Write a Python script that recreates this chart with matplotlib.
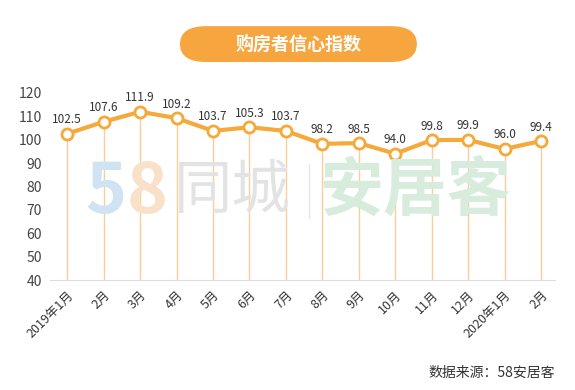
import matplotlib.pyplot as plt
from matplotlib.patches import FancyBboxPatch

plt.rcParams['font.family'] = ['Noto Sans CJK SC', 'DejaVu Sans']

months = ['2019年1月', '2月', '3月', '4月', '5月', '6月', '7月', '8月', '9月',
          '10月', '11月', '12月', '2020年1月', '2月']
values = [102.5, 107.6, 111.9, 109.2, 103.7, 105.3, 103.7, 98.2, 98.5,
          94.0, 99.8, 99.9, 96.0, 99.4]
yticks = [40, 50, 60, 70, 80, 90, 100, 110, 120]

orange = '#f5a93a'
x = list(range(len(values)))

fig = plt.figure(figsize=(5.75, 3.9), dpi=100)
ax = fig.add_axes([0.087, 0.282, 0.878, 0.48])

# watermark
fig.text(0.148, 0.505, '5', fontsize=50, color='#cfe3f3', fontweight='bold', ha='left', va='center')
fig.text(0.220, 0.505, '8', fontsize=50, color='#f9e0c8', fontweight='bold', ha='left', va='center')
fig.text(0.302, 0.51, '同城', fontsize=42, color='#e3e3e3', ha='left', va='center')
fig.text(0.555, 0.51, '安居客', fontsize=46, color='#d8ecdd', fontweight='bold', ha='left', va='center')
fig.add_artist(plt.Line2D([0.537, 0.537], [0.44, 0.58], color='#e6e6e6', lw=1))

for xi, v in zip(x, values):
    ax.plot([xi, xi], [40, v], color='#f8cf9a', lw=1, zorder=1)

ax.plot(x, values, color=orange, lw=3, zorder=3, marker='o', markersize=8,
        markerfacecolor='white', markeredgecolor=orange, markeredgewidth=2)
for xi, v in zip(x, values):
    ax.text(xi, v + 3.2, f'{v:.1f}', ha='center', va='bottom', fontsize=8.5,
            color='#333333', clip_on=False)

ax.set_ylim(40, 120)
ax.set_xlim(-0.47, 13.38)
ax.set_yticks(yticks)
ax.set_yticklabels([str(t) for t in yticks], fontsize=10, color='#444444')
ax.set_xticks(x)
ax.set_xticklabels(months, rotation=45, ha='right', rotation_mode='anchor',
                   fontsize=9, color='#333333')
ax.tick_params(length=0, pad=6)
for s in ['top', 'right', 'left']:
    ax.spines[s].set_visible(False)
ax.spines['bottom'].set_color('#dddddd')
ax.patch.set_alpha(0)

# title pill
pill = FancyBboxPatch((0.313, 0.841), 0.412, 0.092, boxstyle='round,pad=0,rounding_size=0.046',
                      transform=fig.transFigure, facecolor='#f7a53e', edgecolor='none',
                      mutation_aspect=1.0)
fig.add_artist(pill)
fig.text(0.519, 0.887, '购房者信心指数', fontsize=13, color='white', fontweight='bold',
         ha='center', va='center')

fig.text(0.965, 0.045, '数据来源：58安居客', fontsize=10, color='#333333', ha='right', va='center')

fig.savefig('out.png', dpi=100)
